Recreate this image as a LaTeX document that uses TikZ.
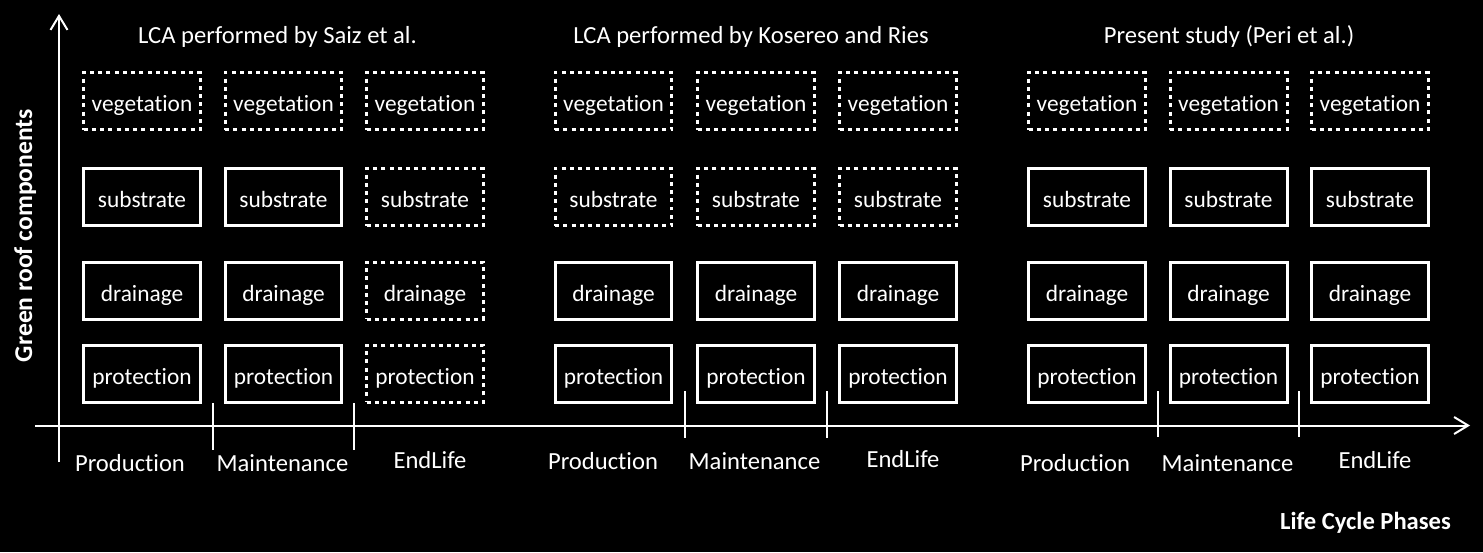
\documentclass[tikz,border=0pt]{standalone}
\usepackage{fontspec}
\setmainfont{Carlito}[Ligatures=NoCommon]
\usetikzlibrary{arrows.meta}
\tikzset{
  fullbox/.style={draw=white,line width=.06cm,minimum width=2.34cm,minimum height=1.14cm,inner sep=0pt,text=white,font=\fontsize{13.3pt}{15pt}\selectfont,text height=.5cm,text depth=.08cm},
  dotbox/.style={fullbox,dash pattern=on .08cm off .085cm},
  axisline/.style={draw=white,line width=.04cm,-{Straight Barb[length=.28cm,width=.34cm]}},
  tickline/.style={draw=white,line width=.04cm},
  phase/.style={text=white,anchor=base,inner sep=0pt,font=\fontsize{14pt}{16pt}\selectfont},
  axislabel/.style={phase,font=\fontsize{14pt}{16pt}\selectfont\bfseries},
}

\begin{document}
\begin{tikzpicture}[x=.02cm,y=-.02cm]
		\fill[black] (0,0) rectangle (1483,552);
		% axes
		\coordinate (ybot) at (59,462); \coordinate (ytop) at (59,14);
		\coordinate (xleft) at (35,425.5); \coordinate (xright) at (1470,425.5);
		\draw[axisline] (ybot)--(ytop);
		\draw[axisline] (xleft)--(xright);
		\draw[tickline] (213,403)--(213,450); \draw[tickline] (354,403)--(354,450);
		\draw[tickline] (685,391)--(685,438); \draw[tickline] (827,391)--(827,438);
		\draw[tickline] (1158,391)--(1158,437); \draw[tickline] (1299,391)--(1299,437);
		\node[axislabel,rotate=90,font=\fontsize{14.6pt}{16pt}\selectfont\bfseries] (ylab) at (32,235.5) {Green roof components};
		\node[axislabel] (xlab) at (1365.5,529) {Life Cycle Phases};
		% Saiz et al.
		\node[phase] (stitle) at (277.5,43) {LCA performed by Saiz et al.};
		\node[dotbox] (sv1) at (142,101) {vegetation};
		\node[dotbox] (sv2) at (283.5,101) {vegetation};
		\node[dotbox] (sv3) at (425,101) {vegetation};
		\node[fullbox] (ss1) at (142,197) {substrate};
		\node[fullbox] (ss2) at (283.5,197) {substrate};
		\node[dotbox] (ss3) at (425,197) {substrate};
		\node[fullbox] (sd1) at (142,290.5) {drainage};
		\node[fullbox] (sd2) at (283.5,290.5) {drainage};
		\node[dotbox] (sd3) at (425,290.5) {drainage};
		\node[fullbox] (sp1) at (142,373.5) {protection};
		\node[fullbox] (sp2) at (283.5,373.5) {protection};
		\node[dotbox] (sp3) at (425,373.5) {protection};
		\node[phase] (sph1) at (130,471) {Production};
		\node[phase] (sph2) at (282.5,471) {Maintenance};
		\node[phase] (sph3) at (430,468) {EndLife};
		% Kosereo and Ries
		\node[phase] (ktitle) at (751,43) {LCA performed by Kosereo and Ries};
		\node[dotbox] (kv1) at (613.5,101) {vegetation};
		\node[dotbox] (kv2) at (756,101) {vegetation};
		\node[dotbox] (kv3) at (898,101) {vegetation};
		\node[dotbox] (ks1) at (613.5,197) {substrate};
		\node[dotbox] (ks2) at (756,197) {substrate};
		\node[dotbox] (ks3) at (898,197) {substrate};
		\node[fullbox] (kd1) at (613.5,290.5) {drainage};
		\node[fullbox] (kd2) at (756,290.5) {drainage};
		\node[fullbox] (kd3) at (898,290.5) {drainage};
		\node[fullbox] (kp1) at (613.5,373.5) {protection};
		\node[fullbox] (kp2) at (756,373.5) {protection};
		\node[fullbox] (kp3) at (898,373.5) {protection};
		\node[phase] (kph1) at (603,469) {Production};
		\node[phase] (kph2) at (754.5,469) {Maintenance};
		\node[phase] (kph3) at (903,467) {EndLife};
		% Peri et al.
		\node[phase] (ptitle) at (1229,43) {Present study (Peri et al.)};
		\node[dotbox] (pv1) at (1087,101) {vegetation};
		\node[dotbox] (pv2) at (1228.5,101) {vegetation};
		\node[dotbox] (pv3) at (1370,101) {vegetation};
		\node[fullbox] (ps1) at (1087,197) {substrate};
		\node[fullbox] (ps2) at (1228.5,197) {substrate};
		\node[fullbox] (ps3) at (1370,197) {substrate};
		\node[fullbox] (pd1) at (1087,290.5) {drainage};
		\node[fullbox] (pd2) at (1228.5,290.5) {drainage};
		\node[fullbox] (pd3) at (1370,290.5) {drainage};
		\node[fullbox] (pp1) at (1087,373.5) {protection};
		\node[fullbox] (pp2) at (1228.5,373.5) {protection};
		\node[fullbox] (pp3) at (1370,373.5) {protection};
		\node[phase] (pph1) at (1075,471) {Production};
		\node[phase] (pph2) at (1227.5,471) {Maintenance};
		\node[phase] (pph3) at (1375,468) {EndLife};
	\end{tikzpicture}
\end{document}
